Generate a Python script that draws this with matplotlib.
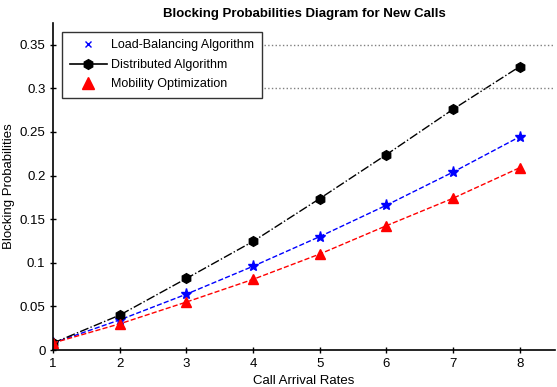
import matplotlib
matplotlib.use("Agg")
import matplotlib.pyplot as plt
from matplotlib.lines import Line2D

plt.rcParams['font.family'] = ['Liberation Sans', 'DejaVu Sans']

call_rates = [1, 2, 3, 4, 5, 6, 7, 8]
load_balancing = [0.008, 0.0345, 0.064, 0.096, 0.130, 0.166, 0.204, 0.2445]
distributed = [0.008, 0.040, 0.082, 0.1245, 0.1736, 0.224, 0.276, 0.325]
mobility = [0.008, 0.030, 0.055, 0.081, 0.110, 0.1425, 0.174, 0.209]

x_ticks = [1, 2, 3, 4, 5, 6, 7, 8]
y_ticks = [0, 0.05, 0.1, 0.15, 0.2, 0.25, 0.3, 0.35]
y_tick_labels = ["0", "0.05", "0.1", "0.15", "0.2", "0.25", "0.3", "0.35"]

fig = plt.figure(figsize=(5.57, 3.87), dpi=100)
ax = fig.add_axes([0.0952, 0.0956, 0.9012, 0.845])

ax.plot(call_rates, load_balancing, color='blue', linestyle='--', linewidth=1,
        marker='*', markersize=8)
ax.plot(call_rates, distributed, color='black', linestyle='-.', linewidth=1,
        marker='h', markersize=7)
ax.plot(call_rates, mobility, color='red', linestyle='--', linewidth=1,
        marker='^', markersize=7)

ax.set_xlim(1, 8.53)
ax.set_ylim(0, 0.375)
ax.set_xticks(x_ticks)
ax.set_yticks(y_ticks)
ax.set_yticklabels(y_tick_labels)
ax.tick_params(direction='inout', length=4, labelsize=9.5, width=1)

for s in ['top', 'right']:
    ax.spines[s].set_visible(False)
for s in ['left', 'bottom']:
    ax.spines[s].set_linewidth(1.2)

# dotted guides to the right of the legend
for yv in [0.35, 0.3]:
    ax.axhline(yv, xmin=0.42, xmax=1.0, color='gray', linestyle=':', linewidth=1)

handles = [
    Line2D([], [], color='blue', linestyle='none', marker='x', markersize=5),
    Line2D([], [], color='black', linestyle='-', marker='h', markersize=7, linewidth=1.2),
    Line2D([], [], color='red', linestyle='none', marker='^', markersize=8),
]
labels = ["Load-Balancing Algorithm", "Distributed Algorithm", "Mobility Optimization"]
leg = ax.legend(handles, labels, loc='upper left', bbox_to_anchor=(0.018, 0.9725),
                fontsize=9, frameon=True, fancybox=False, edgecolor='black',
                borderpad=0.6, labelspacing=0.6, handlelength=3.0,
                handletextpad=0.35, borderaxespad=0)
leg.get_frame().set_linewidth(1)

ax.set_title("Blocking Probabilities Diagram for New Calls", fontsize=9.5,
             fontweight='bold', pad=4)
ax.set_xlabel("Call Arrival Rates", fontsize=9.5, labelpad=4)
ax.set_ylabel("Blocking Probabilities", fontsize=9.5, labelpad=3)

fig.savefig("out.png", dpi=100)
